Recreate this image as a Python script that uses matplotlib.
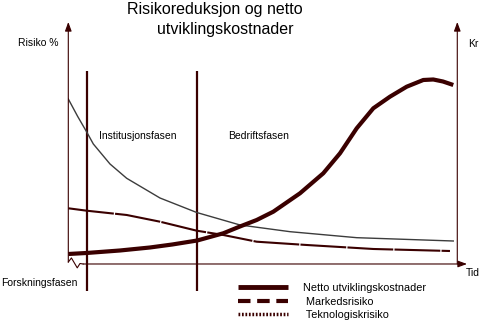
import numpy as np
import matplotlib
matplotlib.use('Agg')
import matplotlib.pyplot as plt
from matplotlib.lines import Line2D

plt.rcParams['font.family'] = ['Liberation Sans', 'DejaVu Sans']

# tid i prosent av hele forlopet, nivaa i prosent av aksehoyden
time_cost = [0, 4.73, 13.29, 21.0, 26.74, 33.16, 39.85, 44.14, 48.43, 52.7, 59.56,
             65.55, 69.85, 74.14, 78.41, 82.69, 86.99, 91.26, 93.83, 96.32, 98.97]
cost = [4.13, 4.55, 5.58, 6.82, 8.06, 9.71, 12.69, 15.5, 18.18, 21.61, 29.21,
        37.48, 45.74, 56.07, 64.34, 69.13, 73.26, 76.03, 76.24, 75.41, 73.97]

time_tech = [0, 2.4, 4.73, 6.43, 10.72, 15.01, 23.57, 33.01, 44.14, 56.99, 74.14, 98.97]
tech_risk = [68.18, 61.0, 54.55, 49.59, 41.32, 35.41, 27.27, 21.28, 16.12, 13.35, 10.87, 9.5]

time_market = [0, 4.73, 15.01, 23.57, 33.01, 39.85, 48.43, 61.28, 78.41, 98.12]
market_risk = [23.02, 22.02, 20.25, 17.48, 13.76, 11.98, 9.21, 7.85, 6.2, 5.37]

phase_bounds = [4.73, 33.16]
phase_names = ["Institusjonsfasen", "Bedriftsfasen"]

# aksebrudd nede til venstre
break_t = [0, 0.8, 2.3, 3.0, 3.8]
break_y = [0.8, 2.5, -1.6, 0.2, 0.0]

brown = '#3a0000'
grey = '#3c3c3c'

fig = plt.figure(figsize=(4.81, 3.21), dpi=100)
ax = fig.add_axes([0.142, 0.1776, 0.8087, 0.7539])
ax.set_xlim(0, 100)
ax.set_ylim(0, 100)
ax.axis('off')

arrow = dict(arrowstyle='-|>,head_length=0.6,head_width=0.22', color=brown,
             lw=0.8, mutation_scale=9, shrinkA=0, shrinkB=0)
ax.annotate('', xy=(0, 100), xytext=(0, 0.8), arrowprops=arrow, annotation_clip=False)
ax.annotate('', xy=(100, 100), xytext=(100, 0), arrowprops=arrow, annotation_clip=False)
ax.annotate('', xy=(102.5, 0), xytext=(3.8, 0), arrowprops=arrow, annotation_clip=False)
ax.plot(break_t, break_y, color=brown, lw=0.8, clip_on=False)

for b in phase_bounds:
    ax.plot([b, b], [79.75, -11.2], color=brown, lw=1.6, clip_on=False,
            solid_capstyle='butt')

ax.plot(time_tech, tech_risk, color=grey, lw=1.0, solid_joinstyle='round')
ax.plot(time_market, market_risk, color=brown, lw=1.5, linestyle=(0, (22, 0.6)),
        dash_joinstyle='round')
ax.plot(time_cost, cost, color=brown, lw=3.0, solid_capstyle='butt',
        solid_joinstyle='round')

fs = 7.5
fig.text(0.447, 0.970, "Risikoreduksjon og netto", fontsize=11.5, ha='center', va='center')
fig.text(0.469, 0.909, "utviklingskostnader", fontsize=11.5, ha='center', va='center')
fig.text(0.0374, 0.866, "Risiko %", fontsize=fs, ha='left', va='center')
fig.text(0.973, 0.863, "Kr", fontsize=fs, ha='left', va='center')
fig.text(0.2058, 0.5763, phase_names[0], fontsize=fs, ha='left', va='center')
fig.text(0.474, 0.5763, phase_names[1], fontsize=fs, ha='left', va='center')
fig.text(0.002, 0.1184, "Forskningsfasen", fontsize=fs, ha='left', va='center')
fig.text(0.9688, 0.1495, "Tid", fontsize=fs, ha='left', va='center')

handles = [
    Line2D([], [], color=brown, lw=3.5, solid_capstyle='butt'),
    Line2D([], [], color=brown, lw=3.0, linestyle=(0, (3, 1.6)), dash_capstyle='butt'),
    Line2D([], [], color=brown, lw=2.5, linestyle=(0, (0.5, 0.5))),
]
labels = ["Netto utviklingskostnader", " Markedsrisiko", " Teknologiskrisiko"]
ax.legend(handles, labels, loc='upper left', bbox_to_anchor=(0.4948, 0.118),
          bbox_transform=fig.transFigure, frameon=False, fontsize=7.8,
          handlelength=4.6, handletextpad=1.4, labelspacing=0.33,
          borderpad=0, borderaxespad=0)

fig.savefig('out.png', dpi=100)
